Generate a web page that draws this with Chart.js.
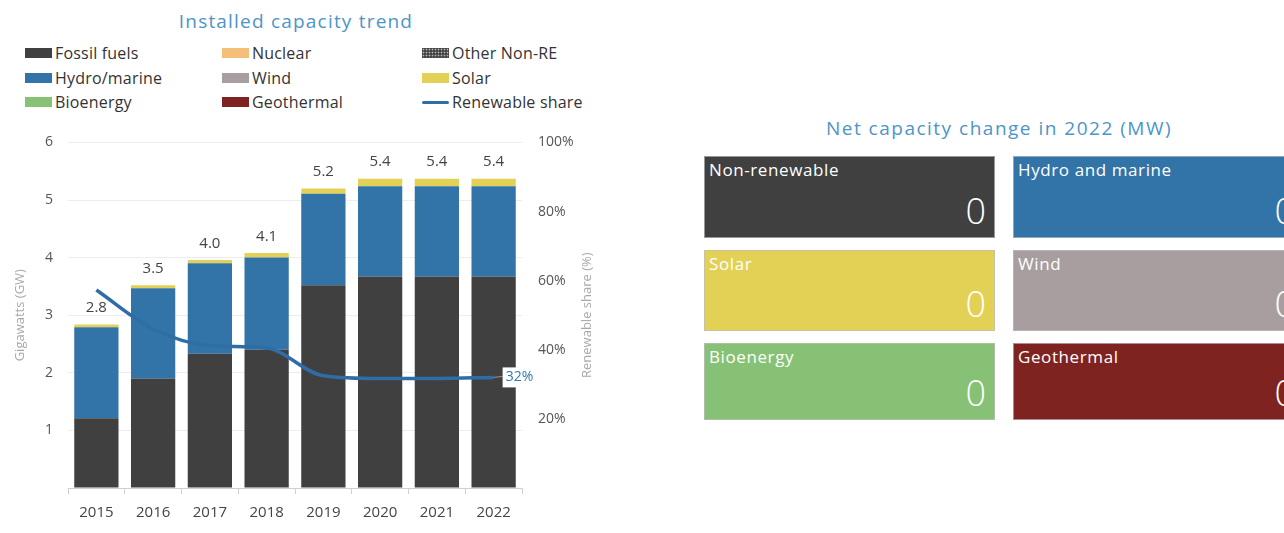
<!DOCTYPE html>
<html>
<head>
<meta charset="utf-8">
<script src="https://cdn.jsdelivr.net/npm/chart.js@4.4.0/dist/chart.umd.min.js"></script>
<style>
  body { margin: 0; width: 1284px; height: 533px; overflow: hidden; background: #fff; position: relative; font-family: 'Open Sans', sans-serif; }
  .title { position: absolute; color: #4d95c8; font-size: 19px; letter-spacing: 1.2px; text-align: center; line-height: 26px; }
  #trendTitle { left: 0; width: 592px; top: 8px; }
  #netTitle { left: 699px; width: 600px; top: 115px; letter-spacing: 1.5px; }
  #legend { position: absolute; left: 25px; top: 41px; display: grid; grid-template-columns: 197px 200px 180px; grid-auto-rows: 24.5px; }
  .lg { display: flex; align-items: center; font-size: 16px; letter-spacing: 0.2px; color: #333; white-space: nowrap; }
  .lg i { display: inline-block; width: 27px; height: 10px; margin-right: 3px; }
  .lg i.line { height: 3px; border-radius: 2px; }
  .lg i.dots { background: radial-gradient(#bdbdbd 0.7px, transparent 1.1px) 0 0 / 3px 3px, #454545; }
  #trendWrap { position: absolute; left: 0; top: 118px; }
  #tiles { position: absolute; left: 704px; top: 156px; display: grid; grid-template-columns: 291px 291px; grid-template-rows: 82px 81px 77px; column-gap: 18px; row-gap: 12px; }
  .tile { position: relative; box-sizing: border-box; border: 1px solid rgba(190,190,190,0.7); color: #fff; }
  .tile .name { position: absolute; left: 4px; top: 1px; font-size: 17px; letter-spacing: 0.6px; }
  .tile .val { position: absolute; right: 8px; bottom: 4px; font-size: 36px; font-weight: 300; line-height: 44px; }
</style>
</head>
<body>
<div class="title" id="trendTitle">Installed capacity trend</div>
<div id="legend"></div>
<div id="trendWrap"><canvas id="trendChart" width="600" height="415"></canvas></div>

<div class="title" id="netTitle">Net capacity change in 2022 (MW)</div>
<div id="tiles"></div>

<script>
// Installed capacity, GW
var years = ["2015", "2016", "2017", "2018", "2019", "2020", "2021", "2022"];
var fossil     = [1.21, 1.90, 2.33, 2.40, 3.52, 3.67, 3.67, 3.67];
var nuclear    = [0, 0, 0, 0, 0, 0, 0, 0];
var otherNonRE = [0, 0, 0, 0, 0, 0, 0, 0];
var hydro      = [1.58, 1.57, 1.57, 1.60, 1.59, 1.57, 1.57, 1.57];
var wind       = [0, 0, 0, 0, 0, 0, 0, 0];
var solar      = [0.05, 0.05, 0.06, 0.08, 0.09, 0.13, 0.13, 0.13];
var bioenergy  = [0, 0, 0, 0, 0, 0, 0, 0];
var geothermal = [0, 0, 0, 0, 0, 0, 0, 0];
// Renewable share, %
var renewShare = [57.3, 46, 41.2, 40.5, 32.5, 31.7, 31.7, 32];

var leftTicks = [1, 2, 3, 4, 5, 6];
var rightTicks = [20, 40, 60, 80, 100];

// Net capacity change in 2022, MW
var tileNames = ["Non-renewable", "Hydro and marine", "Solar", "Wind", "Bioenergy", "Geothermal"];
var tileValues = [0, 0, 0, 0, 0, 0];
var tileColors = ["#404040", "#3274a8", "#e2d155", "#a89ea0", "#86c175", "#7f2321"];

Chart.defaults.font.family = "'Open Sans', sans-serif";

var BLUE_LINE = '#2e6da6';

// dotted fill for "Other Non-RE"
function dotPattern() {
    var c = document.createElement('canvas');
    c.width = 3; c.height = 3;
    var g = c.getContext('2d');
    g.fillStyle = '#454545'; g.fillRect(0, 0, 3, 3);
    g.fillStyle = '#bdbdbd'; g.fillRect(1, 1, 1, 1);
    return g.createPattern(c, 'repeat');
}

var barSets = [
    { label: 'Fossil fuels', data: fossil, backgroundColor: '#404040' },
    { label: 'Nuclear', data: nuclear, backgroundColor: '#f5bf7a' },
    { label: 'Other Non-RE', data: otherNonRE, backgroundColor: dotPattern(), legendClass: 'dots' },
    { label: 'Hydro/marine', data: hydro, backgroundColor: '#3274a8' },
    { label: 'Wind', data: wind, backgroundColor: '#a89ea0' },
    { label: 'Solar', data: solar, backgroundColor: '#e2d155' },
    { label: 'Bioenergy', data: bioenergy, backgroundColor: '#86c175' },
    { label: 'Geothermal', data: geothermal, backgroundColor: '#7f2321' }
];
barSets.forEach(function (d) {
    d.type = 'bar';
    d.stack = 'cap';
    d.order = 1;
    d.yAxisID = 'y';
    d.barPercentage = 0.78;
    d.categoryPercentage = 1;
});

var totals = years.map(function (_, i) {
    return barSets.reduce(function (s, d) { return s + d.data[i]; }, 0);
});

var lineSet = {
    type: 'line', label: 'Renewable share', data: renewShare, yAxisID: 'share', order: 0,
    borderColor: BLUE_LINE, backgroundColor: BLUE_LINE, borderWidth: 3.5,
    pointRadius: 0, cubicInterpolationMode: 'monotone', isLine: true
};

// html legend laid out in three columns
var htmlLegend = {
    id: 'htmlLegend',
    afterUpdate: function (chart) {
        var box = document.getElementById('legend');
        box.innerHTML = '';
        chart.data.datasets.forEach(function (d) {
            var item = document.createElement('div');
            item.className = 'lg';
            var sw = document.createElement('i');
            if (d.isLine) {
                sw.className = 'line';
                sw.style.background = d.borderColor;
            } else if (d.legendClass) {
                sw.className = d.legendClass;
            } else {
                sw.style.background = d.backgroundColor;
            }
            item.appendChild(sw);
            item.appendChild(document.createTextNode(d.label));
            box.appendChild(item);
        });
    }
};

var annotate = {
    id: 'annotate',
    afterDatasetsDraw: function (chart) {
        var ctx = chart.ctx, x = chart.scales.x, y = chart.scales.y;
        ctx.save();
        // totals above the stacks
        ctx.font = "15px 'Open Sans'";
        ctx.fillStyle = '#444';
        ctx.textAlign = 'center';
        ctx.textBaseline = 'bottom';
        totals.forEach(function (t, i) {
            ctx.fillText(t.toFixed(1), x.getPixelForValue(i), y.getPixelForValue(t) - 9);
        });

        // end label on the share line
        var meta = chart.getDatasetMeta(chart.data.datasets.length - 1);
        var pt = meta.data[meta.data.length - 1];
        var txt = Math.round(renewShare[renewShare.length - 1]) + '%';
        ctx.strokeStyle = '#999';
        ctx.lineWidth = 1;
        ctx.beginPath();
        ctx.moveTo(pt.x, pt.y);
        ctx.lineTo(pt.x + 9, pt.y - 1);
        ctx.stroke();
        ctx.font = "14px 'Open Sans'";
        var w = ctx.measureText(txt).width;
        ctx.fillStyle = '#fff';
        ctx.fillRect(pt.x + 9, pt.y - 10, w + 6, 20);
        ctx.fillStyle = '#2f78b4';
        ctx.textAlign = 'left';
        ctx.textBaseline = 'middle';
        ctx.fillText(txt, pt.x + 12, pt.y);

        // axis titles, both reading bottom-to-top
        ctx.font = "13px 'Open Sans'";
        ctx.fillStyle = '#a8a8a8';
        ctx.textAlign = 'center';
        var midY = (chart.chartArea.top + chart.chartArea.bottom) / 2;
        [[20, 'Gigawatts (GW)'], [587, 'Renewable share (%)']].forEach(function (a) {
            ctx.save();
            ctx.translate(a[0], midY);
            ctx.rotate(-Math.PI / 2);
            ctx.fillText(a[1], 0, 0);
            ctx.restore();
        });
        ctx.restore();
    }
};

var ctx = document.getElementById('trendChart').getContext('2d');
var trendChart = new Chart(ctx, {
    data: {
        labels: years,
        datasets: barSets.concat([lineSet])
    },
    options: {
        responsive: false,
        animation: false,
        devicePixelRatio: 1,
        layout: { padding: { top: 9, left: 0, right: 0, bottom: 0 } },
        plugins: {
            legend: { display: false },
            tooltip: { enabled: false }
        },
        scales: {
            x: {
                stacked: true,
                grid: { offset: true, drawOnChartArea: false, tickLength: 6, color: '#cfcfcf' },
                border: { color: '#cfcfcf' },
                ticks: { color: '#444', font: { size: 15 }, padding: 10 },
                afterFit: function (s) { s.height = 45; }
            },
            y: {
                stacked: true,
                position: 'left',
                min: 0, max: leftTicks[leftTicks.length - 1],
                afterBuildTicks: function (s) {
                    s.ticks = [0].concat(leftTicks).map(function (v) { return { value: v }; });
                },
                grid: { color: '#ededed', drawTicks: false },
                border: { display: false },
                ticks: {
                    color: '#555', font: { size: 14 }, padding: 15,
                    callback: function (v) { return v === 0 ? '' : v; }
                },
                afterFit: function (s) { s.width = 68; }
            },
            share: {
                position: 'right',
                min: 0, max: rightTicks[rightTicks.length - 1],
                afterBuildTicks: function (s) {
                    s.ticks = rightTicks.map(function (v) { return { value: v }; });
                },
                grid: { display: false, drawTicks: false },
                border: { display: false },
                ticks: {
                    color: '#555', font: { size: 14 }, padding: 16,
                    callback: function (v) { return v + '%'; }
                },
                afterFit: function (s) { s.width = 78; }
            }
        }
    },
    plugins: [htmlLegend, annotate]
});

// tiles for the 2022 net change
var tiles = document.getElementById('tiles');
tileNames.forEach(function (n, i) {
    var t = document.createElement('div');
    t.className = 'tile';
    t.style.background = tileColors[i];
    t.innerHTML = '<span class="name">' + n + '</span><span class="val">' + tileValues[i] + '</span>';
    tiles.appendChild(t);
});
</script>
</body>
</html>
